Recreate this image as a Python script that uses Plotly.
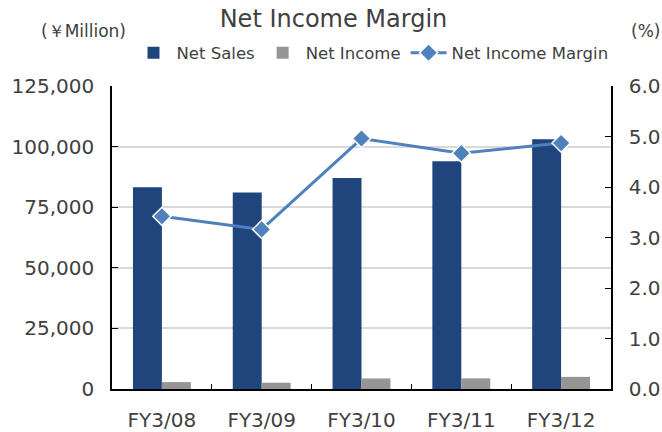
import plotly.graph_objects as go

categories = ["FY3/08", "FY3/09", "FY3/10", "FY3/11", "FY3/12"]
net_sales = [83200, 81100, 87000, 94000, 103000]
net_income = [2850, 2600, 4350, 4400, 5000]
margin = [3.42, 3.16, 4.96, 4.67, 4.87]
left_ticks = [0, 25000, 50000, 75000, 100000, 125000]
right_ticks = [0, 1, 2, 3, 4, 5, 6]

FONT = "DejaVu Sans"
TXT = "#404040"

W, H = 662, 432
PL, PR, PT, PB = 112, 611, 86, 389  # plot area in pixels
PW, PH = PR - PL, PB - PT

def px(x):
    return (x - PL) / PW

def py(y):
    return (PB - y) / PH

fig = go.Figure()
fig.add_trace(go.Bar(x=categories, y=net_sales, name="Net Sales",
                     marker=dict(color="#1F457C", line=dict(width=0))))
fig.add_trace(go.Bar(x=categories, y=net_income, name="Net Income",
                     marker=dict(color="#959595", line=dict(width=0))))
fig.add_trace(go.Scatter(x=categories, y=margin, name="Net Income Margin",
                         yaxis="y2", mode="lines+markers",
                         line=dict(color="#4F81BD", width=3),
                         marker=dict(symbol="diamond", size=14, color="#4F81BD",
                                     line=dict(color="white", width=1.5))))

fig.update_layout(
    width=W, height=H,
    margin=dict(l=PL, r=W - PR, t=PT, b=H - PB, autoexpand=False),
    paper_bgcolor="white", plot_bgcolor="white",
    font=dict(family=FONT, color=TXT),
    barmode="group", bargap=0.42, bargroupgap=0,
    title=dict(text="Net Income Margin", x=333.5 / W, xanchor="center",
               y=1 - 19 / H, yanchor="middle", xref="container",
               yref="container", font=dict(size=24, color=TXT, family=FONT)),
    legend=dict(orientation="h", xref="container", x=372 / W, xanchor="center",
                yref="container", y=1 - 53 / H, yanchor="middle",
                font=dict(size=16.5, color=TXT),
                bgcolor="rgba(0,0,0,0)", itemwidth=36, tracegroupgap=0),
    xaxis=dict(showline=True, linecolor="black", linewidth=1.5,
               ticks="inside", tickson="boundaries", ticklen=5, tickcolor="black",
               tickfont=dict(size=20, color=TXT), ticklabelstandoff=12,
               showgrid=False, automargin=False),
    yaxis=dict(range=[0, 125000], tickvals=left_ticks, tickformat=",",
               showline=True, linecolor="black", linewidth=1.5,
               ticks="inside", ticklen=6, tickcolor="black",
               tickfont=dict(size=20, color=TXT), ticklabelstandoff=12,
               showgrid=True, gridcolor="#D9D9D9", gridwidth=1.5, zeroline=False,
               automargin=False),
    yaxis2=dict(range=[0, 6], tickvals=right_ticks, tickformat=".1f",
                overlaying="y", side="right",
                showline=True, linecolor="black", linewidth=1.5,
                ticks="inside", ticklen=6, tickcolor="black",
                tickfont=dict(size=20, color=TXT), ticklabelstandoff=12,
                showgrid=False, zeroline=False, automargin=False),
    annotations=[
        dict(text="(￥Million)", xref="paper", yref="paper",
             x=px(83), y=py(31), xanchor="center", yanchor="middle",
             showarrow=False, font=dict(size=17, color=TXT)),
        dict(text="(%)", xref="paper", yref="paper",
             x=px(645), y=py(31), xanchor="center", yanchor="middle",
             showarrow=False, font=dict(size=17, color=TXT)),
    ],
)

fig.write_html("out.html", config={"displayModeBar": False},
               post_script="document.body.style.margin='0';"
                           "document.body.style.overflow='hidden';")
